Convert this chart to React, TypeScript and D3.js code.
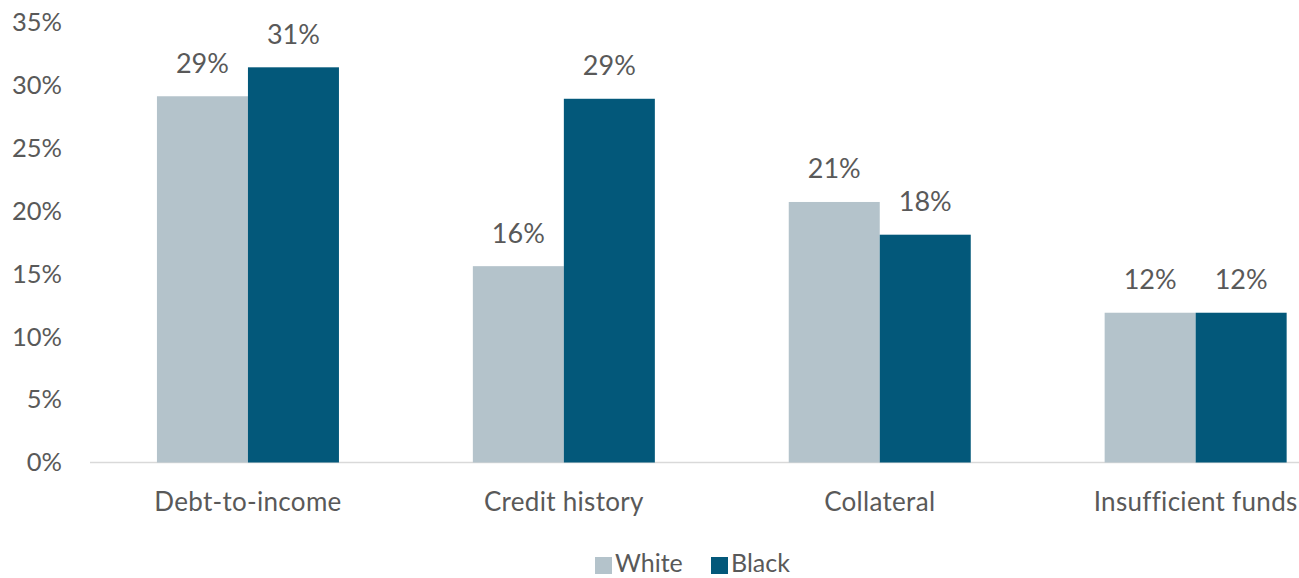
import React from "react";
import * as d3 from "d3";

const categories = ["Debt-to-income", "Credit history", "Collateral", "Insufficient funds"];
const seriesNames = ["White", "Black"];
const whiteValues = [29.1, 15.6, 20.7, 11.9];
const blackValues = [31.4, 28.9, 18.1, 11.9];
const yTicks = [0, 5, 10, 15, 20, 25, 30, 35];
const colors = ["#B4C3CB", "#03587A"];

const W = 1299;
const H = 578;
const FONT = "Lato, 'Open Sans', sans-serif";
const TEXT = "#595959";

export default function App() {
  const x0 = d3.scaleBand<string>().domain(categories).range([90, 90 + 4 * 315.9]).paddingInner(0).paddingOuter(0);
  const x1 = d3.scaleBand<string>().domain(seriesNames).range([0, 182]);
  const y = d3.scaleLinear().domain([0, 35]).range([462.5, 22]);
  const values = [whiteValues, blackValues];

  return (
    <svg width={W} height={H} style={{ position: "absolute", left: 0, top: 0, background: "#fff" }} fontFamily={FONT}>
      {yTicks.map((t) => (
        <text key={t} x={62} y={y(t)} dy="0.35em" textAnchor="end" fontSize={25.5} fill={TEXT}>
          {t}%
        </text>
      ))}
      <line x1={90} x2={W} y1={y(0)} y2={y(0)} stroke="#D9D9D9" strokeWidth={1.5} />
      {categories.map((c, i) => {
        const cx = (x0(c) as number) + x0.bandwidth() / 2;
        const gx = cx - 91;
        return (
          <g key={c}>
            {seriesNames.map((s, j) => {
              const v = values[j][i];
              const bx = gx + (x1(s) as number);
              return (
                <g key={s}>
                  <rect x={bx} y={y(v)} width={x1.bandwidth()} height={y(0) - y(v)} fill={colors[j]} />
                  <text x={bx + x1.bandwidth() / 2} y={y(v) - 33} dy="0.35em" textAnchor="middle" fontSize={27} fill={TEXT}>
                    {Math.round(v)}%
                  </text>
                </g>
              );
            })}
            <text x={cx} y={502} dy="0.35em" textAnchor="middle" fontSize={26} letterSpacing={0.3} fill={TEXT}>
              {c}
            </text>
          </g>
        );
      })}
      {seriesNames.map((s, j) => {
        const lx = [595, 711][j];
        return (
          <g key={s}>
            <rect x={lx} y={557} width={17} height={17} fill={colors[j]} />
            <text x={lx + 20} y={572} fontSize={25} fill={TEXT}>
              {s}
            </text>
          </g>
        );
      })}
    </svg>
  );
}
